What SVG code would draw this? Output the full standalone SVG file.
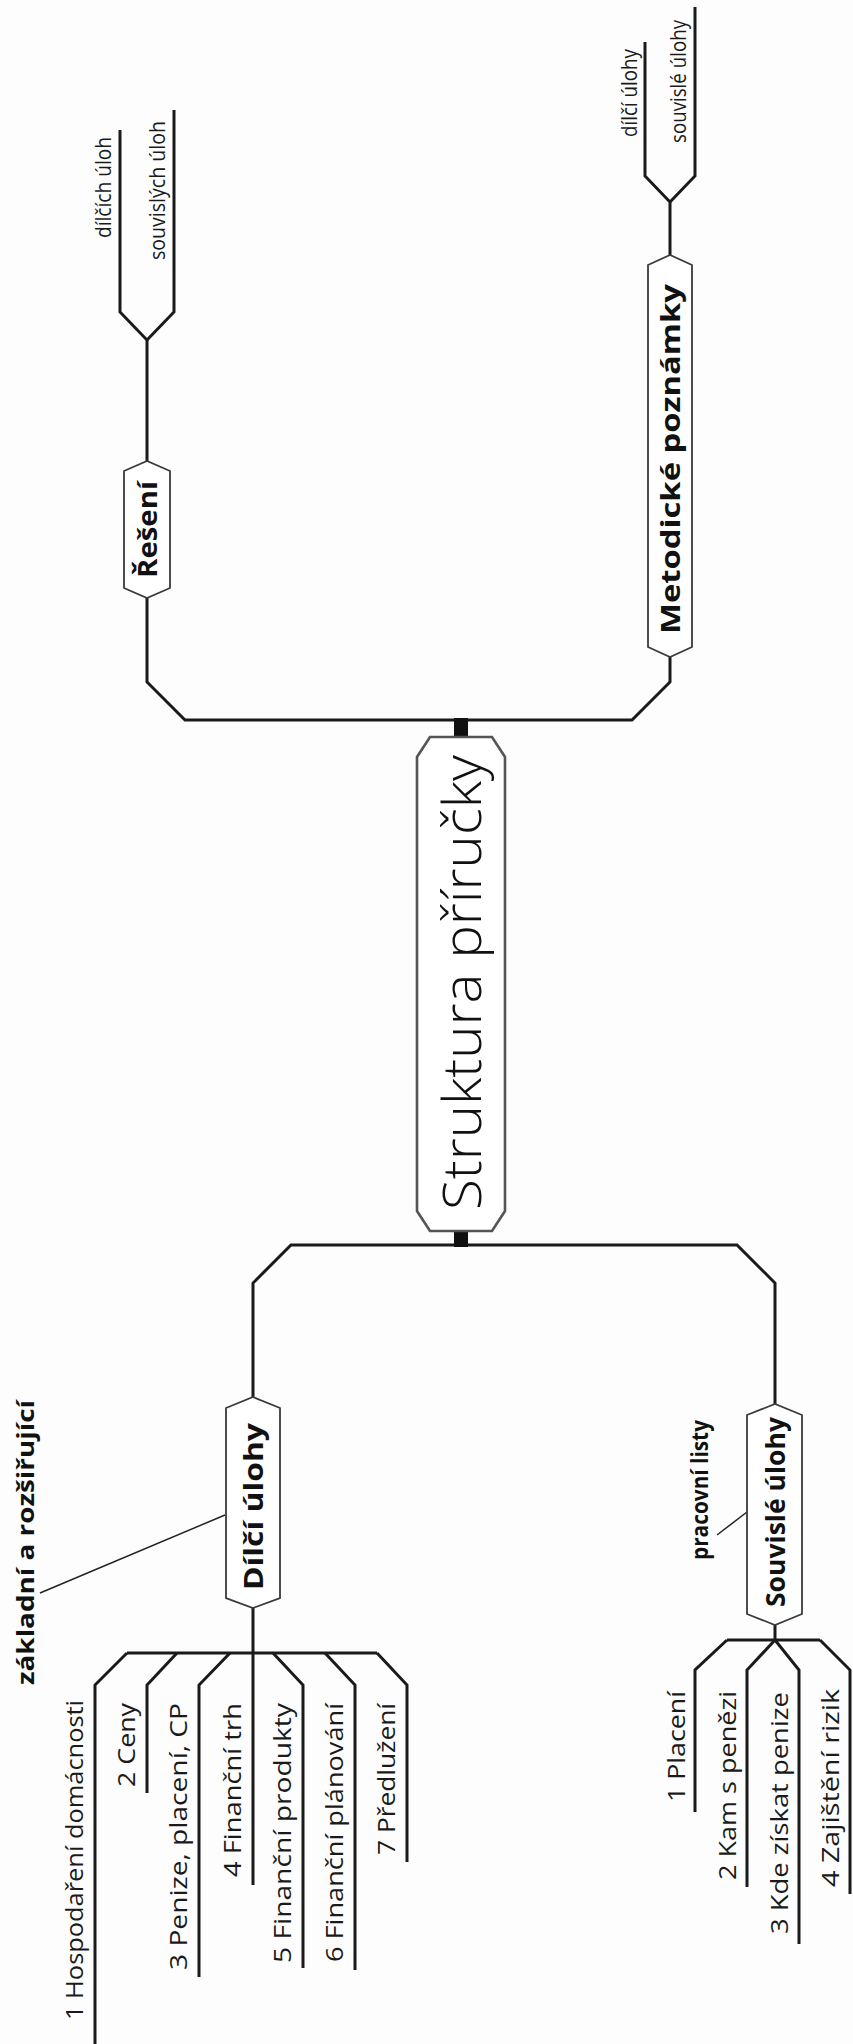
<svg xmlns="http://www.w3.org/2000/svg" width="853" height="2044" viewBox="0 0 853 2044">
<style>
.bg{fill:#fdfdfd}
.box{fill:#fff;stroke:#3a3a3a;stroke-width:1.8;stroke-linejoin:miter}
.cbox{fill:#fff;stroke:#555;stroke-width:2.6}
.ln{fill:none;stroke:#1a1a1a;stroke-width:3;stroke-linejoin:miter}
.thin{fill:none;stroke:#222;stroke-width:1.5}
.stub{fill:#111}
.t{font-family:"Open Sans","Noto Sans","DejaVu Sans",sans-serif;font-size:24px;fill:#1a1a1a}
.s{font-family:"Open Sans","Noto Sans","DejaVu Sans",sans-serif;font-size:22px;fill:#1a1a1a}
.b{font-family:"Open Sans","Noto Sans","DejaVu Sans",sans-serif;font-size:27px;font-weight:700;fill:#111}
.lb{font-family:"Open Sans","Noto Sans","DejaVu Sans",sans-serif;font-size:24px;font-weight:700;fill:#111}
.big{font-family:"Open Sans","Noto Sans","DejaVu Sans",sans-serif;font-size:54px;font-weight:300;fill:#111}
</style>
<rect class="bg" x="0" y="0" width="853" height="2044"/>
<g id="connectors">
  <path class="ln" d="M147,598 L147,682 L185,720 L632,720 L670,682 L670,657"/>
  <path class="ln" d="M253,1397 L253,1283 L291,1245 L737,1245 L775,1283 L775,1404"/>
  <rect class="stub" x="454" y="718" width="14" height="20"/>
  <rect class="stub" x="454" y="1230" width="14" height="17"/>
  <path class="ln" d="M147,461 L147,340 L120,312 L120,130"/>
  <path class="ln" d="M147,340 L174,312 L174,110"/>
  <path class="ln" d="M670,255 L670,202 L645,176 L645,42"/>
  <path class="ln" d="M670,202 L695,176 L695,7"/>
  <path class="ln" d="M253,1608 L253,1885"/>
  <path class="ln" d="M127,1653 L377,1653"/>
  <path class="ln" d="M127,1653 L95,1685 L95,2044"/>
  <path class="ln" d="M177,1653 L147,1685 L147,1793"/>
  <path class="ln" d="M230,1653 L199,1685 L199,1977"/>
  <path class="ln" d="M273,1653 L303,1685 L303,1968"/>
  <path class="ln" d="M325,1653 L355,1685 L355,1970"/>
  <path class="ln" d="M377,1653 L407,1685 L407,1862"/>
  <path class="ln" d="M775,1625 L775,1640"/>
  <path class="ln" d="M727,1640 L820,1640"/>
  <path class="ln" d="M727,1640 L695,1670 L695,1812"/>
  <path class="ln" d="M775,1640 L747,1670 L747,1887"/>
  <path class="ln" d="M775,1640 L799,1670 L799,1944"/>
  <path class="ln" d="M820,1640 L850,1670 L850,1894"/>
  <path class="thin" d="M40,1593 L225,1515"/>
  <path class="thin" d="M717,1535 L747,1512"/>
</g>
<g id="node-central">
  <polygon class="cbox" points="430,737 492,737 505,757 505,1211 492,1231 430,1231 417,1211 417,757"/>
  <text class="big" transform="translate(481,1210) rotate(-90)" textLength="455" lengthAdjust="spacingAndGlyphs">Struktura příručky</text>
</g>
<g id="node-reseni">
  <polygon class="box" points="124,471 147,461 170,471 170,588 147,598 124,588"/>
  <text class="b" transform="translate(157,578) rotate(-90)" textLength="97" lengthAdjust="spacingAndGlyphs">Řešení</text>
</g>
<g id="node-reseni-items">
  <text class="s" transform="translate(111,238) rotate(-90)" textLength="101" lengthAdjust="spacingAndGlyphs">dílčích úloh</text>
  <text class="s" transform="translate(165,260) rotate(-90)" textLength="139" lengthAdjust="spacingAndGlyphs">souvislých úloh</text>
</g>
<g id="node-metodicke">
  <polygon class="box" points="648,265 670,255 692,265 692,647 670,657 648,647"/>
  <text class="b" transform="translate(680,634) rotate(-90)" textLength="350" lengthAdjust="spacingAndGlyphs">Metodické poznámky</text>
</g>
<g id="node-metodicke-items">
  <text class="s" transform="translate(637,137) rotate(-90)" textLength="88" lengthAdjust="spacingAndGlyphs">dílčí úlohy</text>
  <text class="s" transform="translate(686,143) rotate(-90)" textLength="123" lengthAdjust="spacingAndGlyphs">souvislé úlohy</text>
</g>
<g id="node-dilci">
  <polygon class="box" points="226,1408 253,1397 280,1408 280,1598 253,1608 226,1598"/>
  <text class="b" transform="translate(263,1590) rotate(-90)" textLength="167" lengthAdjust="spacingAndGlyphs">Dílčí úlohy</text>
</g>
<g id="note-zakladni">
  <text class="lb" transform="translate(34,1685) rotate(-90)" textLength="285" lengthAdjust="spacingAndGlyphs">základní a rozšiřující</text>
</g>
<g id="node-dilci-items">
  <text class="t" transform="translate(83,2020) rotate(-90)" textLength="320" lengthAdjust="spacingAndGlyphs">1 Hospodaření domácnosti</text>
  <text class="t" transform="translate(135,1787) rotate(-90)" textLength="84" lengthAdjust="spacingAndGlyphs">2 Ceny</text>
  <text class="t" transform="translate(187,1970) rotate(-90)" textLength="267" lengthAdjust="spacingAndGlyphs">3 Penize, placení, CP</text>
  <text class="t" transform="translate(241,1877) rotate(-90)" textLength="174" lengthAdjust="spacingAndGlyphs">4 Finanční trh</text>
  <text class="t" transform="translate(291,1963) rotate(-90)" textLength="260" lengthAdjust="spacingAndGlyphs">5 Finanční produkty</text>
  <text class="t" transform="translate(343,1962) rotate(-90)" textLength="259" lengthAdjust="spacingAndGlyphs">6 Finanční plánování</text>
  <text class="t" transform="translate(395,1855) rotate(-90)" textLength="152" lengthAdjust="spacingAndGlyphs">7 Předlužení</text>
</g>
<g id="node-souvisle">
  <polygon class="box" points="747,1415 775,1404 802,1415 802,1614 775,1625 747,1614"/>
  <text class="b" transform="translate(785,1607) rotate(-90)" textLength="190" lengthAdjust="spacingAndGlyphs">Souvislé úlohy</text>
</g>
<g id="note-pracovni">
  <text class="lb" transform="translate(708,1560) rotate(-90)" textLength="140" lengthAdjust="spacingAndGlyphs">pracovní listy</text>
</g>
<g id="node-souvisle-items">
  <text class="t" transform="translate(685,1802) rotate(-90)" textLength="111" lengthAdjust="spacingAndGlyphs">1 Placení</text>
  <text class="t" transform="translate(736,1880) rotate(-90)" textLength="189" lengthAdjust="spacingAndGlyphs">2 Kam s penězi</text>
  <text class="t" transform="translate(788,1934) rotate(-90)" textLength="242" lengthAdjust="spacingAndGlyphs">3 Kde získat penize</text>
  <text class="t" transform="translate(839,1887) rotate(-90)" textLength="198" lengthAdjust="spacingAndGlyphs">4 Zajištění rizik</text>
</g>
</svg>
